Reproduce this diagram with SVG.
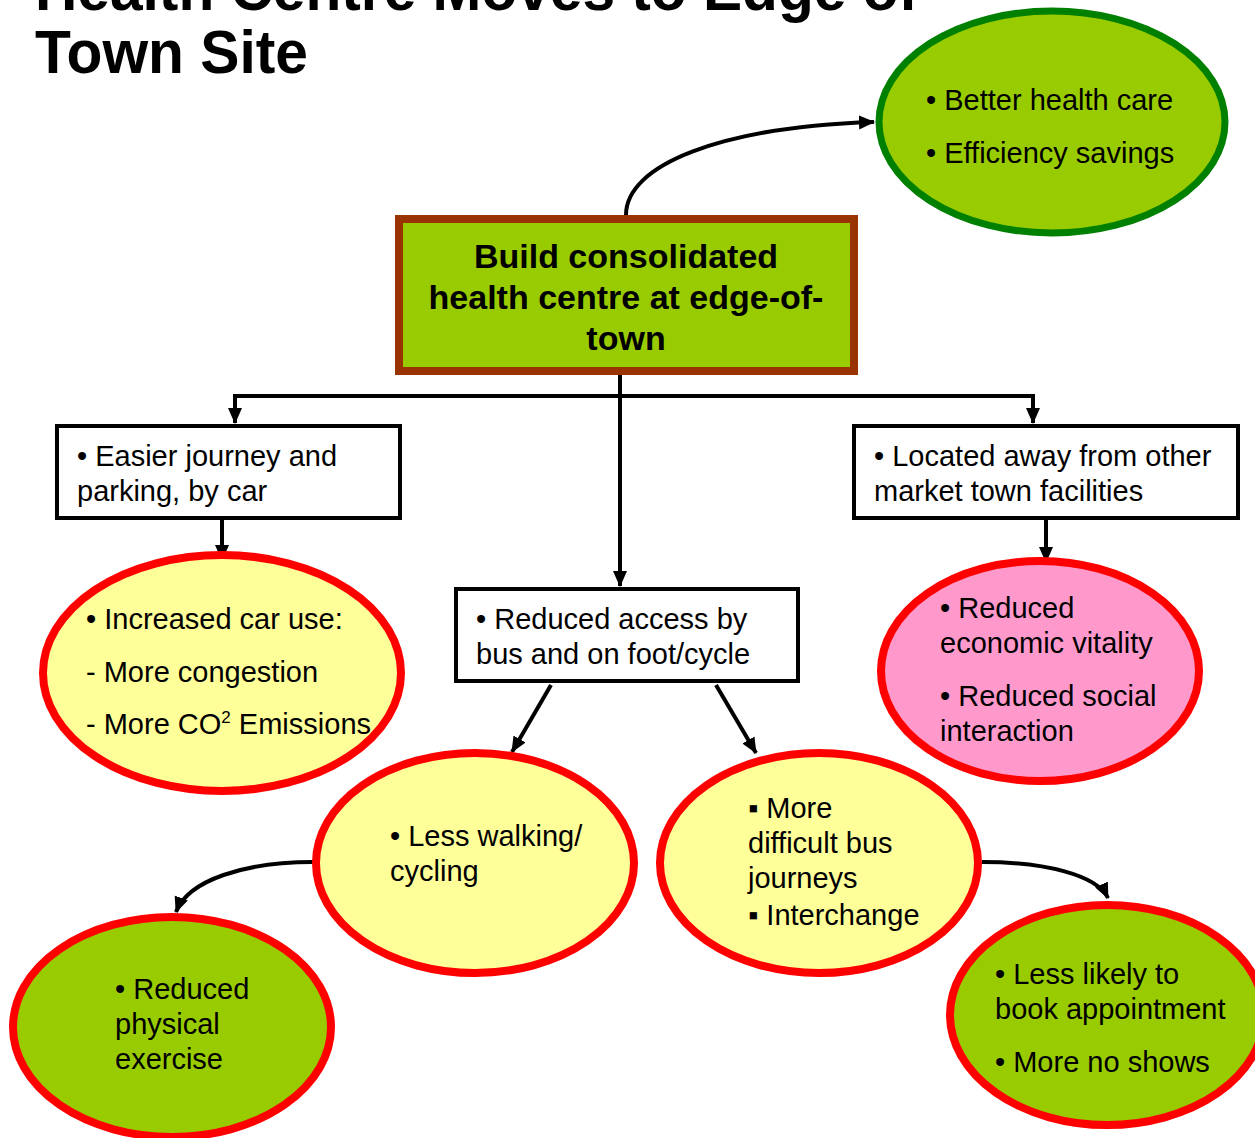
<svg xmlns="http://www.w3.org/2000/svg" width="1255" height="1138" viewBox="0 0 1255 1138">
<style>
text{font-family:"Liberation Sans",Arial,sans-serif;fill:#000}
.t{font-size:29px}
.b{font-size:34px;font-weight:bold}
.ttl{font-size:62px;font-weight:bold}
.con{fill:none;stroke:#000;stroke-width:4}
.red{stroke:#FF0000;stroke-width:8}
.yel{fill:#FFFF99}
.grn{fill:#99CC00}
.pnk{fill:#FF99CC}
.box{fill:#fff;stroke:#000;stroke-width:4}
</style>
<defs>
<marker id="ah" markerUnits="userSpaceOnUse" markerWidth="16" markerHeight="16" viewBox="0 0 16 16" refX="15" refY="8" orient="auto">
<path d="M0,1 L16,8 L0,15 Z" fill="#000"/>
</marker>
</defs>
<rect width="1255" height="1138" fill="#fff"/>
<g id="title">
<text class="ttl" x="35" y="10" textLength="883" lengthAdjust="spacingAndGlyphs">Health Centre Moves to Edge of</text>
<text class="ttl" x="35" y="73" textLength="273" lengthAdjust="spacingAndGlyphs">Town Site</text>
</g>
<g id="connectors">
<path class="con" d="M626,215 C626,165 720,127 874,122" marker-end="url(#ah)"/>
<path class="con" d="M620,375 L620,586" marker-end="url(#ah)"/>
<path class="con" d="M235,396 L1033,396"/>
<path class="con" d="M235,394 L235,423" marker-end="url(#ah)"/>
<path class="con" d="M1033,394 L1033,423" marker-end="url(#ah)"/>
<path class="con" d="M222,520 L222,560" marker-end="url(#ah)"/>
<path class="con" d="M1046,520 L1046,562" marker-end="url(#ah)"/>
<path class="con" d="M551,685 L512,752" marker-end="url(#ah)"/>
<path class="con" d="M716,685 L756,753" marker-end="url(#ah)"/>
<path class="con" d="M313,862 C245,862 188,880 176,912" marker-end="url(#ah)"/>
<path class="con" d="M982,862 C1045,862 1097,875 1108,898" marker-end="url(#ah)"/>
</g>
<g id="benefits">
<ellipse cx="1052" cy="122" rx="173" ry="111" class="grn" stroke="#008000" stroke-width="7"/>
<text class="t" x="926" y="110">• Better health care</text>
<text class="t" x="926" y="163">• Efficiency savings</text>
</g>
<g id="centre">
<rect x="399" y="219" width="455" height="152" fill="#99CC00" stroke="#993300" stroke-width="8"/>
<text class="b" x="626" y="268" text-anchor="middle">Build consolidated</text>
<text class="b" x="626" y="309" text-anchor="middle">health centre at edge-of-</text>
<text class="b" x="626" y="350" text-anchor="middle">town</text>
</g>
<g id="car">
<rect x="57" y="426" width="343" height="92" class="box"/>
<text class="t" x="77" y="466">• Easier journey and</text>
<text class="t" x="77" y="501">parking, by car</text>
</g>
<g id="away">
<rect x="854" y="426" width="384" height="92" class="box"/>
<text class="t" x="874" y="466">• Located away from other</text>
<text class="t" x="874" y="501">market town facilities</text>
</g>
<g id="access">
<rect x="456" y="589" width="342" height="92" class="box"/>
<text class="t" x="476" y="629">• Reduced access by</text>
<text class="t" x="476" y="664">bus and on foot/cycle</text>
</g>
<g id="caruse">
<ellipse cx="222" cy="673" rx="179" ry="118" class="yel red"/>
<text class="t" x="86" y="629">• Increased car use:</text>
<text class="t" x="86" y="682">- More congestion</text>
<text class="t" x="86" y="734">- More CO<tspan font-size="17" dy="-11">2</tspan><tspan dy="11"> Emissions</tspan></text>
</g>
<g id="vitality">
<ellipse cx="1040" cy="671" rx="159" ry="110" class="pnk red"/>
<text class="t" x="940" y="618">• Reduced</text>
<text class="t" x="940" y="653">economic vitality</text>
<text class="t" x="940" y="706">• Reduced social</text>
<text class="t" x="940" y="741">interaction</text>
</g>
<g id="walking">
<ellipse cx="475" cy="863" rx="159" ry="110" class="yel red"/>
<text class="t" x="390" y="846">• Less walking/</text>
<text class="t" x="390" y="881">cycling</text>
</g>
<g id="bus">
<ellipse cx="819" cy="863" rx="159" ry="110" class="yel red"/>
<text class="t" x="748" y="818">▪ More</text>
<text class="t" x="748" y="853">difficult bus</text>
<text class="t" x="748" y="888">journeys</text>
<text class="t" x="748" y="925">▪ Interchange</text>
</g>
<g id="exercise">
<ellipse cx="172" cy="1027" rx="159" ry="110" class="grn red"/>
<text class="t" x="115" y="999">• Reduced</text>
<text class="t" x="115" y="1034">physical</text>
<text class="t" x="115" y="1069">exercise</text>
</g>
<g id="appointment">
<ellipse cx="1107" cy="1015" rx="157" ry="110" class="grn red"/>
<text class="t" x="995" y="984">• Less likely to</text>
<text class="t" x="995" y="1019">book appointment</text>
<text class="t" x="995" y="1072">• More no shows</text>
</g>
</svg>
